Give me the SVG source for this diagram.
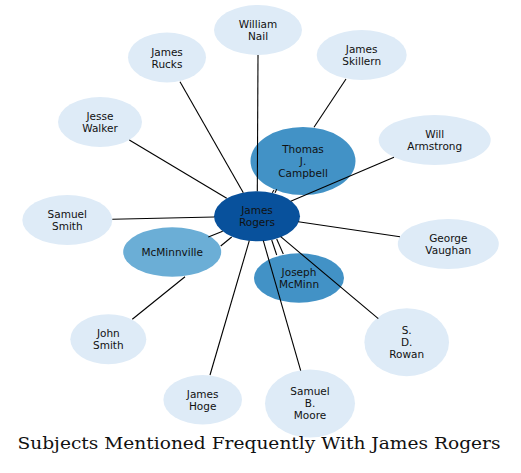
<svg xmlns="http://www.w3.org/2000/svg" width="521" height="473" viewBox="0 0 521 473">
<style>
.n text{font-family:"DejaVu Sans",sans-serif;font-size:10.5px;fill:#111;text-anchor:middle;dominant-baseline:central}
.l{fill:#deebf7}
.m1{fill:#6baed6}
.m2{fill:#4292c6}
.c{fill:#08519c}
#edges line{stroke:#000;stroke-width:1.1}
.title{font-family:"DejaVu Serif",serif;font-size:17px;fill:#111}
</style>
<rect width="521" height="473" fill="#fff"/>
<g id="n-nail" class="n"><ellipse class="l" cx="258" cy="30" rx="44" ry="25"/><text x="258" y="24">William</text><text x="258" y="36">Nail</text></g>
<g id="n-rucks" class="n"><ellipse class="l" cx="167" cy="57.5" rx="39" ry="25"/><text x="167" y="51.5">James</text><text x="167" y="63.5">Rucks</text></g>
<g id="n-skillern" class="n"><ellipse class="l" cx="361.7" cy="55" rx="45" ry="25"/><text x="361.7" y="49">James</text><text x="361.7" y="61">Skillern</text></g>
<g id="n-walker" class="n"><ellipse class="l" cx="100" cy="122" rx="42" ry="25"/><text x="100" y="116">Jesse</text><text x="100" y="128">Walker</text></g>
<g id="n-campbell" class="n"><ellipse class="m2" cx="303" cy="161" rx="52.5" ry="34"/><text x="303" y="148.5">Thomas</text><text x="303" y="160.5">J.</text><text x="303" y="172.5">Campbell</text></g>
<g id="n-armstrong" class="n"><ellipse class="l" cx="434.7" cy="140" rx="56" ry="25"/><text x="434.7" y="134">Will</text><text x="434.7" y="146">Armstrong</text></g>
<g id="n-ssmith" class="n"><ellipse class="l" cx="67.3" cy="220" rx="45" ry="25"/><text x="67.3" y="214">Samuel</text><text x="67.3" y="226">Smith</text></g>
<g id="n-rogers" class="n"><ellipse class="c" cx="257" cy="216.3" rx="43" ry="25"/><text x="257" y="210">James</text><text x="257" y="222">Rogers</text></g>
<g id="n-vaughan" class="n"><ellipse class="l" cx="448.3" cy="244" rx="50.5" ry="25"/><text x="448.3" y="238">George</text><text x="448.3" y="250">Vaughan</text></g>
<g id="n-mcminnville" class="n"><ellipse class="m1" cx="172.2" cy="252" rx="49" ry="24.7"/><text x="172.2" y="251.5">McMinnville</text></g>
<g id="n-mcminn" class="n"><ellipse class="m2" cx="299" cy="278" rx="45" ry="24.7"/><text x="299" y="272">Joseph</text><text x="299" y="284">McMinn</text></g>
<g id="n-rowan" class="n"><ellipse class="l" cx="406.7" cy="342.2" rx="42.3" ry="34"/><text x="406.7" y="329.5">S.</text><text x="406.7" y="341.5">D.</text><text x="406.7" y="353.5">Rowan</text></g>
<g id="n-jsmith" class="n"><ellipse class="l" cx="108.3" cy="339.2" rx="38" ry="25"/><text x="108.3" y="333">John</text><text x="108.3" y="345">Smith</text></g>
<g id="n-hoge" class="n"><ellipse class="l" cx="202.7" cy="399.7" rx="39.3" ry="24.7"/><text x="202.7" y="393.5">James</text><text x="202.7" y="405.5">Hoge</text></g>
<g id="n-moore" class="n"><ellipse class="l" cx="310" cy="403.5" rx="45" ry="34"/><text x="310" y="391">Samuel</text><text x="310" y="403">B.</text><text x="310" y="415">Moore</text></g>
<g id="edges">
<line x1="258" y1="55" x2="257.3" y2="191.3"/>
<line x1="180" y1="81.7" x2="243.3" y2="192.7"/>
<line x1="129.3" y1="140" x2="226.7" y2="198.3"/>
<line x1="112.3" y1="219.3" x2="214.3" y2="217"/>
<line x1="208.3" y1="237" x2="222.7" y2="231.3"/>
<line x1="220.7" y1="246" x2="231.7" y2="237"/>
<line x1="132.3" y1="319.3" x2="185" y2="276.7"/>
<line x1="210" y1="375" x2="249.3" y2="240.7"/>
<line x1="263.3" y1="240.7" x2="300.7" y2="370.7"/>
<line x1="271.7" y1="240" x2="276.7" y2="255"/>
<line x1="276.7" y1="239" x2="283.3" y2="254"/>
<line x1="280.7" y1="236.7" x2="378.3" y2="318.7"/>
<line x1="298.3" y1="221.7" x2="400" y2="236.7"/>
<line x1="290.7" y1="201.3" x2="394" y2="157.3"/>
<line x1="272.3" y1="192.7" x2="274" y2="190"/>
<line x1="275" y1="192.7" x2="276.7" y2="189.3"/>
<line x1="314" y1="127.3" x2="346" y2="79"/>
</g>
<text class="title" x="17.5" y="448.5" textLength="483" lengthAdjust="spacingAndGlyphs">Subjects Mentioned Frequently With James Rogers</text>
</svg>
